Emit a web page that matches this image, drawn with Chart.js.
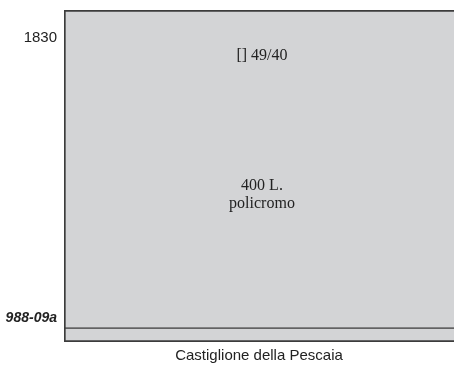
<!DOCTYPE html>
<html>
<head>
<meta charset="utf-8">
<script src="https://cdn.jsdelivr.net/npm/chart.js@4/dist/chart.umd.min.js"></script>
<style>
  html, body { margin: 0; padding: 0; background: #fff; }
  #wrap { width: 454px; height: 367px; }
</style>
</head>
<body>
<div id="wrap"><canvas id="c"></canvas></div>
<script>
// data
const categories = ['Castiglione della Pescaia'];
const lowerSpan = [0, 4.2];      // base strip
const upperSpan = [4.2, 100];    // main block
const tickValues = [91.6, 7.2];
const tickLabels = ['1830', '988-09a'];
const noteValues = [86.1, 44.3];
const noteLines = [['[] 49/40'], ['400 L.', 'policromo']];

const fill = '#d3d4d6';
const edge = '#3c3c3c';
const sans = '"Liberation Sans", Arial, sans-serif';

const notesPlugin = {
    id: 'notes',
    afterDatasetsDraw(chart) {
        const ctx = chart.ctx;
        const y = chart.scales.y;
        const bar = chart.getDatasetMeta(1).data[0];
        ctx.save();
        ctx.fillStyle = '#222';
        ctx.font = '16px "Liberation Serif", "Times New Roman", serif';
        ctx.textAlign = 'center';
        ctx.textBaseline = 'middle';
        noteValues.forEach((v, i) => {
            const lines = noteLines[i];
            const cy = y.getPixelForValue(v);
            lines.forEach((t, j) => {
                ctx.fillText(t, bar.x + 3, cy + (j - (lines.length - 1) / 2) * 18);
            });
        });
        ctx.restore();
    }
};

new Chart(document.getElementById('c'), {
    type: 'bar',
    data: {
        labels: categories,
        datasets: [
            {
                data: [lowerSpan],
                backgroundColor: fill,
                borderColor: edge,
                borderWidth: { top: 1, left: 2, bottom: 2, right: 0 },
                borderSkipped: false,
                barPercentage: 1,
                categoryPercentage: 1,
                grouped: false
            },
            {
                data: [upperSpan],
                backgroundColor: fill,
                borderColor: edge,
                borderWidth: { top: 2, left: 2, bottom: 1, right: 0 },
                borderSkipped: false,
                barPercentage: 1,
                categoryPercentage: 1,
                grouped: false
            }
        ]
    },
    options: {
        responsive: true,
        maintainAspectRatio: false,
        animation: false,
        layout: { padding: { top: 10, right: 0, left: 0, bottom: 0 } },
        plugins: { legend: { display: false }, tooltip: { enabled: false } },
        scales: {
            x: {
                grid: { display: false, drawTicks: false },
                border: { display: false },
                ticks: { padding: 5, color: '#222', font: { family: sans, size: 15 } },
                afterFit: s => { s.height = 25; s.paddingLeft = 0; s.paddingRight = 0; }
            },
            y: {
                min: 0,
                max: 100,
                grid: { display: false, drawTicks: false },
                border: { display: false },
                afterBuildTicks: s => { s.ticks = tickValues.map(v => ({ value: v })); },
                afterFit: s => { s.width = 64; s.paddingTop = 0; s.paddingBottom = 0; },
                ticks: {
                    padding: 7,
                    color: '#222',
                    callback: (v, i) => tickLabels[i],
                    font: c => c.index === 1
                        ? { family: sans, size: 14, weight: 'bold', style: 'italic' }
                        : { family: sans, size: 15 }
                }
            }
        }
    },
    plugins: [notesPlugin]
});
</script>
</body>
</html>
